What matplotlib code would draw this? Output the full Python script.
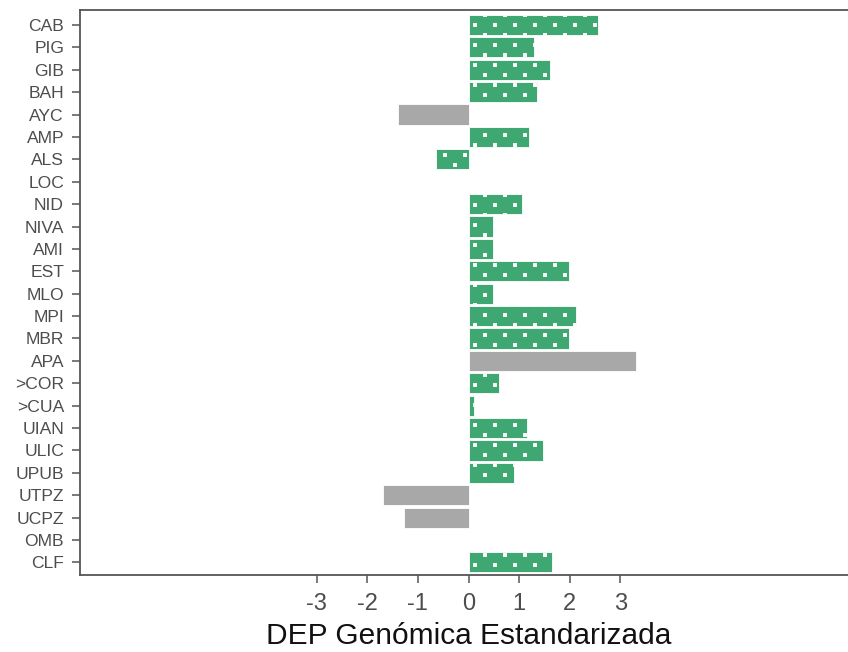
import matplotlib
matplotlib.use("Agg")
import matplotlib.pyplot as plt
import matplotlib.hatch as mhatch
from matplotlib.path import Path

plt.rcParams['font.family'] = ['Liberation Sans', 'DejaVu Sans']

categorias = ['CAB', 'PIG', 'GIB', 'BAH', 'AYC', 'AMP', 'ALS', 'LOC', 'NID', 'NIVA',
              'AMI', 'EST', 'MLO', 'MPI', 'MBR', 'APA', '>COR', '>CUA', 'UIAN', 'ULIC',
              'UPUB', 'UTPZ', 'UCPZ', 'OMB', 'CLF']
dep = [2.55, 1.30, 1.61, 1.35, -1.39, 1.20, -0.64, 0.0, 1.05, 0.48,
       0.48, 1.99, 0.48, 2.13, 1.99, 3.30, 0.60, 0.11, 1.16, 1.47,
       0.89, -1.69, -1.28, 0.0, 1.64]
# True = barra con puntos (verde), False = gris
significativo = [True, True, True, True, False, True, True, False, True, True,
                 True, True, True, True, True, False, True, True, True, True,
                 True, False, False, False, True]
xticks = [-3, -2, -1, 0, 1, 2, 3]

verde = '#3fa872'
gris = '#a8a8a8'


# patron de puntos cuadrados al tresbolillo (filas cada 10 px, columnas cada 20 px)
class PuntosCuadrados(mhatch.HatchPatternBase):
    filas = 10
    cols = 5
    lado = 0.025

    def __init__(self, hatch, density):
        self.activo = hatch.count('.') > 0
        self.num_vertices = self.filas * self.cols * 5 if self.activo else 0

    def set_vertices_and_codes(self, vertices, codes):
        k = 0
        h = self.lado / 2
        for f in range(self.filas):
            y = 0.05 + f * 0.1
            x0 = 0.05 if f % 2 == 0 else 0.15
            for c in range(self.cols):
                x = x0 + c * 0.2
                vertices[k:k + 5] = [(x - h, y - h), (x + h, y - h), (x + h, y + h),
                                     (x - h, y + h), (x - h, y - h)]
                codes[k:k + 5] = [Path.MOVETO, Path.LINETO, Path.LINETO,
                                  Path.LINETO, Path.CLOSEPOLY]
                k += 5


mhatch._hatch_types = [PuntosCuadrados if t is mhatch.SmallFilledCircles else t
                       for t in mhatch._hatch_types]

fig = plt.figure(figsize=(8.48, 6.52), dpi=100)
ax = fig.add_axes([80/848, 1 - 574.7/652, 777/848, (574.7 - 10)/652])

pos = list(range(len(categorias)))
for i in pos:
    if significativo[i]:
        ax.barh(i, dep[i], height=0.9, color=verde, edgecolor='white',
                linewidth=0.6, hatch='.')
    else:
        ax.barh(i, dep[i], height=0.9, color=gris, edgecolor='white',
                linewidth=0.6)

ax.set_xlim(-7.67, 7.67)
ax.set_ylim(24.55, -0.67)
ax.set_yticks(pos)
ax.set_yticklabels(categorias)
ax.set_xticks(xticks)
ax.set_xticklabels([str(t) for t in xticks])

ax.tick_params(axis='y', labelsize=12.6, colors='#555555', labelcolor='#4d4d4d',
               length=5.5, width=1.1, pad=6)
ax.tick_params(axis='x', labelsize=17, colors='#555555', labelcolor='#4d4d4d',
               length=5.5, width=1.1, pad=8)
for s in ax.spines.values():
    s.set_color('#555555')
    s.set_linewidth(1.3)

ax.set_xlabel('DEP Genómica Estandarizada', fontsize=21.5, color='#111111', labelpad=5)

fig.savefig('out.png', dpi=100)
